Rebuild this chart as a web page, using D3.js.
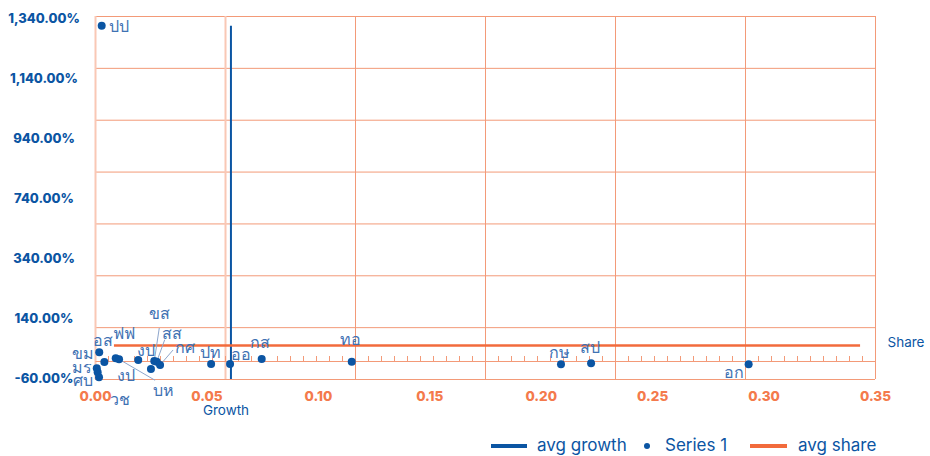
<!DOCTYPE html>
<html><head><meta charset="utf-8">
<script src="https://cdn.jsdelivr.net/npm/d3@7"></script>
<style>
html,body{margin:0;padding:0;background:#fff;}
svg{display:block;font-family:Inter,"Noto Sans",sans-serif;}
</style></head><body>
<svg id="c" width="930" height="456"></svg>
<script>
// ---- data ----
const names   = ["ปป","อส","ขม","มร","ศบ","วช","ฟฟ","บห","งป","งป","ขส","สส","กศ","ปท","ออ","กส","ทอ","กษ","สป","อก"];
const growthX = [0.0030,0.0019,0.0042,0.0008,0.0018,0.0012,0.0093,0.0108,0.0194,0.0251,0.0266,0.0277,0.0292,0.0521,0.0606,0.0748,0.1152,0.2091,0.2226,0.2933];
const shareY  = [1302,43,5.6,-18.7,-53.4,-34.2,19.8,16.0,13.3,-21.4,9.4,6.7,-6.0,-2.1,-2.1,17.1,6.7,-3.3,0.5,-3.3];
const avgGrowth = 0.0610;          // vertical line
const avgGrowthSpan = [-60, 1302];
const avgShare = 69.2;             // horizontal line
const avgShareSpan = [0.0085, 0.3433];
const shareAxisAt = 9.4;
const xTickLabels = ["0.00","0.05","0.10","0.15","0.20","0.25","0.30","0.35"];
const yTickLabels = ["-60.00%","140.00%","340.00%","740.00%","940.00%","1,140.00%","1,340.00%"];
const legendItems = ["avg growth","Series 1","avg share"];

// ---- label layout (offsets from point) ----
const labelOff = [[17,0],[4,-12],[-21,-9],[-15,-1],[-16,3],[22,27],[8,-25],[44,31],[8,-10],[-25,6],[5,-48],[15,-29],[25,-18],[-1,-12],[11,-10],[-2,-17],[-1,-23],[-1,-12],[-1,-16],[-15,8]];
const leaderEnd = {7:[-8,-10],10:[0,15],11:[-7,7],12:[-12,3]};

const BLUE="#0b55a3", ORANGE="#f26b3c", GRID="#f39a78", GRIDL="#f9c8b5", LBL="#3f72b3", XLBL="#f47a4c";
const svg=d3.select("#c");
const L=95,R=875,T=16,B=379;
const x=d3.scaleLinear().domain([0,0.35]).range([L,R]);
const y=d3.scaleLinear().domain([-60,1340]).range([B,T]);
const gx=d3.scaleLinear().domain([0,0.6]).range([L,R]);   // secondary grid scale

// horizontal grid
svg.append("g").attr("transform",`translate(${L},0)`)
  .call(d3.axisLeft(y).tickValues(d3.range(-60,1341,200)).tickSize(-(R-L)).tickFormat(""))
  .call(g=>g.select(".domain").remove())
  .call(g=>g.selectAll("line").attr("stroke",GRID).attr("stroke-width",1));
// vertical grid
svg.append("g").attr("transform",`translate(0,${B})`)
  .call(d3.axisBottom(gx).tickValues(d3.range(0,0.61,0.1)).tickSize(-(B-T)).tickFormat(""))
  .call(g=>g.select(".domain").remove())
  .call(g=>g.selectAll("line").attr("stroke",(d,i)=>i<2?GRIDL:GRID).attr("stroke-width",(d,i)=>i<2?2:1));
// secondary axis with minor ticks
svg.append("g").attr("transform",`translate(0,${Math.round(y(shareAxisAt))})`)
  .call(d3.axisTop(gx).tickValues(d3.range(1,60).map(d=>d/100)).tickSize(5).tickSizeOuter(0).tickFormat(""))
  .call(g=>g.selectAll("line,path").attr("stroke",GRID).attr("stroke-width",1));

// y labels
const yl=d3.scalePoint().domain(yTickLabels).range([378,18]);
svg.append("g").attr("transform","translate(44,0)")
  .call(d3.axisLeft(yl).tickSize(0).tickPadding(0))
  .call(g=>g.select(".domain").remove())
  .call(g=>g.selectAll("text").attr("text-anchor","middle").attr("fill",BLUE)
     .attr("font-size",13).attr("font-weight",800).attr("font-family","Inter,sans-serif"));
// x labels
const xl=d3.scalePoint().domain(xTickLabels).range([L,R]);
svg.append("g").attr("transform",`translate(0,${B})`)
  .call(d3.axisBottom(xl).tickSize(0).tickPadding(12))
  .call(g=>g.select(".domain").remove())
  .call(g=>g.selectAll("text").attr("fill",XLBL).attr("font-size",13.5).attr("font-weight",800).attr("font-family","Inter,sans-serif"));

// avg lines
svg.append("line").attr("x1",x(avgGrowth)).attr("x2",x(avgGrowth)).attr("y1",y(avgGrowthSpan[0])).attr("y2",y(avgGrowthSpan[1]))
  .attr("stroke",BLUE).attr("stroke-width",2);
svg.append("line").attr("x1",x(avgShareSpan[0])).attr("x2",x(avgShareSpan[1])).attr("y1",y(avgShare)).attr("y2",y(avgShare))
  .attr("stroke",ORANGE).attr("stroke-width",2.5);

// leader lines
const pts=names.map((n,i)=>({n,i,px:x(growthX[i]),py:y(shareY[i])}));
svg.append("g").selectAll("line").data(pts.filter(p=>leaderEnd[p.i])).join("line")
  .attr("x1",p=>p.px).attr("y1",p=>p.py)
  .attr("x2",p=>p.px+labelOff[p.i][0]+leaderEnd[p.i][0]).attr("y2",p=>p.py+labelOff[p.i][1]+leaderEnd[p.i][1])
  .attr("stroke","#8ea6cc").attr("stroke-width",1);
// points
svg.append("g").selectAll("circle").data(pts).join("circle")
  .attr("cx",p=>p.px).attr("cy",p=>p.py).attr("r",4).attr("fill",BLUE);
// labels
svg.append("g").selectAll("text").data(pts).join("text")
  .attr("x",p=>p.px+labelOff[p.i][0]).attr("y",p=>p.py+labelOff[p.i][1])
  .attr("text-anchor","middle").attr("dominant-baseline","central")
  .attr("font-size",16).attr("fill",LBL).text(p=>p.n);

// axis titles
svg.append("text").attr("x",226).attr("y",410).attr("text-anchor","middle").attr("dominant-baseline","central")
  .attr("font-size",13.5).attr("fill",BLUE).text("Growth");
svg.append("text").attr("x",906).attr("y",342).attr("text-anchor","middle").attr("dominant-baseline","central")
  .attr("font-size",13.5).attr("fill",BLUE).text("Share");

// legend
const lg=svg.append("g").attr("transform","translate(0,446)");
lg.append("line").attr("x1",491).attr("x2",527).attr("stroke",BLUE).attr("stroke-width",4);
lg.append("text").attr("x",537).attr("y",-1).attr("dominant-baseline","central").attr("font-size",17).attr("fill",BLUE).text(legendItems[0]);
lg.append("circle").attr("cx",647).attr("r",3).attr("fill",BLUE);
lg.append("text").attr("x",665).attr("y",-1).attr("dominant-baseline","central").attr("font-size",17).attr("fill",BLUE).text(legendItems[1]);
lg.append("line").attr("x1",750).attr("x2",787).attr("stroke",ORANGE).attr("stroke-width",4);
lg.append("text").attr("x",798).attr("y",-1).attr("dominant-baseline","central").attr("font-size",17).attr("fill",BLUE).text(legendItems[2]);
</script></body></html>
